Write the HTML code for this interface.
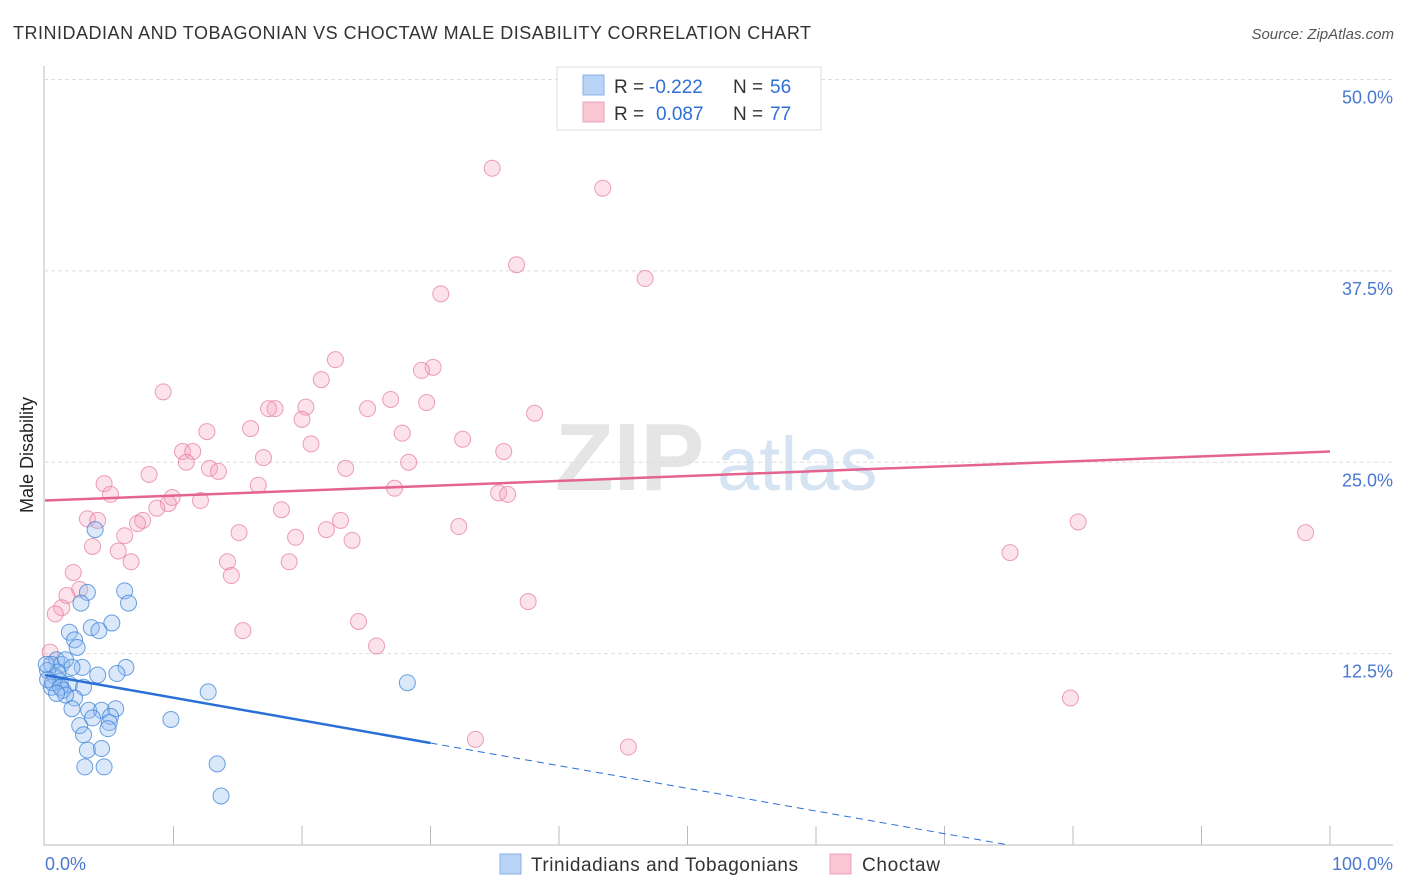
<!DOCTYPE html>
<html><head><meta charset="utf-8"><style>
body{margin:0;background:#fff;font-family:"Liberation Sans",sans-serif;}
#wrap{position:relative;width:1406px;height:892px;overflow:hidden;}
svg text{font-family:"Liberation Sans",sans-serif;}
</style></head><body>
<div id="wrap">
<svg id="chart" width="1406" height="892">
<text x="13" y="39" font-size="18" fill="#333" textLength="798" lengthAdjust="spacing">TRINIDADIAN AND TOBAGONIAN VS CHOCTAW MALE DISABILITY CORRELATION CHART</text>
<text x="1394" y="39" font-size="15" fill="#555" text-anchor="end" font-style="italic">Source: ZipAtlas.com</text>
<text x="33" y="455" font-size="18" fill="#222" text-anchor="middle" transform="rotate(-90 33 455)">Male Disability</text>
<g>
<text x="555" y="490" font-size="96" fill="#e5e5e5" font-family="Liberation Serif" font-weight="bold">ZIP</text>
<text x="717" y="490" font-size="76" fill="#d6e3f3">atlas</text>
</g>
<g id="grid"></g><g id="pts"></g><g id="lines"></g>
<g>
<rect x="557" y="67" width="264" height="63" fill="#fff" stroke="#ddd"/>
<rect x="583" y="75" width="21" height="20" fill="#b8d3f5" stroke="#8ab2e6"/>
<rect x="583" y="102" width="21" height="20" fill="#f9c6d4" stroke="#eca3b8"/>
<text x="614" y="93" font-size="19" fill="#333">R =</text>
<text x="649" y="93" font-size="19" fill="#2f6fd6">-0.222</text>
<text x="733" y="93" font-size="19" fill="#333">N =</text>
<text x="770" y="93" font-size="19" fill="#2f6fd6">56</text>
<text x="614" y="120" font-size="19" fill="#333">R =</text>
<text x="656" y="120" font-size="19" fill="#2f6fd6">0.087</text>
<text x="733" y="120" font-size="19" fill="#333">N =</text>
<text x="770" y="120" font-size="19" fill="#2f6fd6">77</text>
</g>
<g>
<rect x="500" y="854" width="21" height="20" fill="#b8d3f5" stroke="#8ab2e6"/>
<text x="531" y="871" font-size="19" fill="#333" textLength="267" lengthAdjust="spacing">Trinidadians and Tobagonians</text>
<rect x="830" y="854" width="21" height="20" fill="#f9c6d4" stroke="#eca3b8"/>
<text x="862" y="871" font-size="19" fill="#333" textLength="78" lengthAdjust="spacing">Choctaw</text>
</g>
<text x="45" y="870" font-size="18" fill="#4a78d0">0.0%</text>
<text x="1393" y="870" font-size="18" fill="#4a78d0" text-anchor="end">100.0%</text>
</svg></div>
<script>
const yTicks=[12.5,25,37.5,50];
const yTickLabels=["12.5%","25.0%","37.5%","50.0%"];
const xTicks=[0,10,20,30,40,50,60,70,80,90,100];
const blueX=[3.9,3.3,6.2,6.5,2.8,5.2,3.6,4.2,1.9,2.3,2.5,0.9,0.5,1.3,1.6,2.9,2.1,6.3,5.6,4.1,0.8,1.2,1.9,0.5,1.4,3.0,2.3,12.7,28.2,2.1,3.4,4.4,5.5,5.1,5.0,2.7,4.9,9.8,3.3,4.4,3.1,4.6,13.4,13.7,0.2,1.0,0.2,0.6,1.2,1.6,3.7,3.0,0.1,0.9];
const blueY=[20.6,16.5,16.6,15.8,15.8,14.5,14.2,14.0,13.9,13.4,12.9,12.1,11.8,11.8,12.1,11.6,11.6,11.6,11.2,11.1,11.0,10.7,10.5,10.3,10.1,10.3,9.6,10.0,10.6,8.9,8.8,8.8,8.9,8.4,8.0,7.8,7.6,8.2,6.2,6.3,5.1,5.1,5.3,3.2,11.4,11.3,10.8,10.6,10.3,9.8,8.3,7.2,11.8,9.9];
const pinkX=[34.8,43.4,36.7,46.7,30.8,22.6,30.2,29.3,21.5,9.2,26.9,29.7,17.9,17.4,20.3,25.1,38.1,20.0,12.6,16.0,27.8,32.5,20.7,10.7,11.5,35.7,17.0,11.0,28.3,23.4,12.8,13.5,8.1,4.6,16.6,27.2,35.3,36.0,5.1,9.9,12.1,9.6,8.7,18.4,7.6,3.3,4.1,23.0,21.9,32.2,15.1,7.2,6.2,19.5,23.9,3.7,5.7,80.4,98.1,75.1,19.0,14.2,6.7,14.5,2.2,2.7,1.7,37.6,1.3,0.8,24.4,15.4,25.8,79.8,33.5,45.4,0.4];
const pinkY=[44.2,42.9,37.9,37.0,36.0,31.7,31.2,31.0,30.4,29.6,29.1,28.9,28.5,28.5,28.6,28.5,28.2,27.8,27.0,27.2,26.9,26.5,26.2,25.7,25.7,25.7,25.3,25.0,25.0,24.6,24.6,24.4,24.2,23.6,23.5,23.3,23.0,22.9,22.9,22.7,22.5,22.3,22.0,21.9,21.2,21.3,21.2,21.2,20.6,20.8,20.4,21.0,20.2,20.1,19.9,19.5,19.2,21.1,20.4,19.1,18.5,18.5,18.5,17.6,17.8,16.7,16.3,15.9,15.5,15.1,14.6,14.0,13.0,9.6,6.9,6.4,12.6];
const blueTrend=[11.1,-0.148];
const pinkTrend=[22.5,0.032];
const X=v=>45+v*12.85, Y=v=>845-v*15.31;
const NS="http://www.w3.org/2000/svg";
function mk(tag,attrs,parent){const e=document.createElementNS(NS,tag);for(const k in attrs)e.setAttribute(k,attrs[k]);parent.appendChild(e);return e;}
const grid=document.getElementById('grid');
let ax=mk('line',{x1:44,y1:66,x2:44,y2:845,stroke:'#bbb'},grid);


let bx=mk('line',{x1:44,y1:845,x2:1393,y2:845,stroke:'#bbb'},grid);


yTicks.forEach((t,i)=>{
 const g=mk('line',{x1:44,x2:1393,y1:Y(t),y2:Y(t),stroke:'#ddd','stroke-dasharray':'4 3'},grid);
 
 
 const tx=mk('text',{x:1393,y:Y(t)+24,'font-size':18,fill:'#4a78d0','text-anchor':'end'},grid);
 tx.textContent=yTickLabels[i];
 
 
});
xTicks.forEach(t=>{
 if(t===0)return;
 const l=mk('line',{x1:X(t),x2:X(t),y1:826,y2:845,stroke:'#bbb'},grid);
 
 
});
const pts=document.getElementById('pts');
pinkX.forEach((x,i)=>{
 const c=mk('circle',{cx:X(x),cy:Y(pinkY[i]),r:8,fill:'rgba(244,160,185,0.3)',stroke:'rgba(230,120,155,0.7)','stroke-width':1},pts);
 
 
});
blueX.forEach((x,i)=>{
 const c=mk('circle',{cx:X(x),cy:Y(blueY[i]),r:8,fill:'rgba(150,190,240,0.35)',stroke:'rgba(60,130,215,0.75)','stroke-width':1},pts);
 
 
});
const lines=document.getElementById('lines');
const bz=-blueTrend[0]/blueTrend[1];
let l1=mk('line',{x1:X(0),y1:Y(blueTrend[0]),x2:X(30),y2:Y(blueTrend[0]+blueTrend[1]*30),stroke:'#2a6fd6','stroke-width':2.5},lines);


let l2=mk('line',{x1:X(30),y1:Y(blueTrend[0]+blueTrend[1]*30),x2:X(bz),y2:Y(0),stroke:'#2a6fd6','stroke-width':1,'stroke-dasharray':'7 5'},lines);


let l3=mk('line',{x1:X(0),y1:Y(pinkTrend[0]),x2:X(100),y2:Y(pinkTrend[0]+pinkTrend[1]*100),stroke:'#e4638f','stroke-width':2.5},lines);


</script>
</body></html>
